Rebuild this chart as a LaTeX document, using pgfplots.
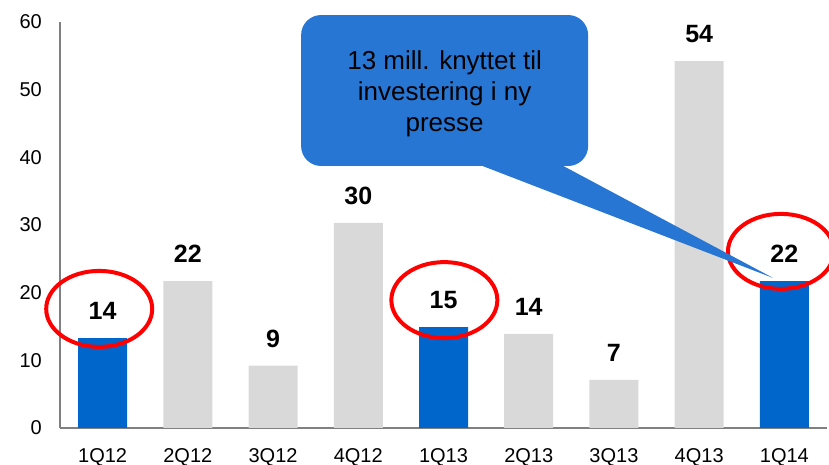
\documentclass[border=0pt]{standalone}
\usepackage{pgfplots}
\pgfplotsset{compat=1.18}
\usepackage{pgfplotstable}
\usepackage{fontspec}
\setmainfont{Liberation Sans}

\definecolor{barblue}{RGB}{0,102,204}
\definecolor{bargray}{RGB}{217,217,217}
\definecolor{axisgray}{RGB}{128,128,128}
\definecolor{callout}{RGB}{40,118,212}

% quarters highlighted in blue
\pgfplotstableread{
x y lbl
0 13.3 14
4 14.9 15
8 21.7 22
}\hiliteq
% remaining quarters
\pgfplotstableread{
x y lbl
1 21.7 22
2 9.2 9
3 30.3 30
5 13.9 14
6 7.1 7
7 54.2 54
}\otherq

\begin{document}
\begin{tikzpicture}
\begin{axis}[
  at={(0,0)}, anchor=south west,
  scale only axis, width=767pt, height=406pt,
  xmin=-0.5, xmax=8.5, ymin=0, ymax=60,
  axis x line=bottom, axis y line=left,
  axis line style={draw=axisgray, line width=1.2pt, -},
  ybar, bar width=49pt, bar shift=0pt,
  xtick={0,...,8},
  xticklabels={1Q12,2Q12,3Q12,4Q12,1Q13,2Q13,3Q13,4Q13,1Q14},
  ytick={0,10,...,60},
  major tick length=0pt,
  tick label style={font=\fontsize{20}{24}\selectfont},
  /pgf/number format/assume math mode=true,
  xticklabel style={inner sep=0pt, anchor=north, yshift=-20pt},
  yticklabel style={inner sep=0pt, anchor=east, xshift=-18pt},
  nodes near coords, point meta=explicit symbolic,
  every node near coord/.append style={font=\bfseries\fontsize{25}{30}\selectfont,
    anchor=south, inner sep=0pt, yshift=18pt, text=black},
  clip=false,
]
\addplot[fill=barblue, draw=none] table[x=x, y=y, meta=lbl] {\hiliteq};
\addplot[fill=bargray, draw=none] table[x=x, y=y, meta=lbl] {\otherq};

% red rings round the first quarters
\draw[red, line width=4pt] (axis cs:-0.04,17.6) ellipse [x radius=53pt, y radius=38pt];
\draw[red, line width=4pt] (axis cs:4.01,18.9) ellipse [x radius=53pt, y radius=38pt];
\draw[red, line width=4pt] (axis cs:7.96,26.1) ellipse [x radius=53pt, y radius=37.5pt];

% callout
\fill[callout, rounded corners=20pt] (axis cs:2.329,61.03) rectangle (axis cs:5.697,38.72);
\fill[callout] (axis cs:4.277,39.6) -- (axis cs:5.275,39.6) -- (axis cs:7.868,22.17) -- cycle;
\node[anchor=base, inner sep=0pt, font=\fontsize{26}{31}\selectfont] at (axis cs:4.013,53.05) {13 mill. knyttet til};
\node[anchor=base, inner sep=0pt, font=\fontsize{26}{31}\selectfont] at (axis cs:4.013,48.47) {investering i ny};
\node[anchor=base, inner sep=0pt, font=\fontsize{26}{31}\selectfont] at (axis cs:4.013,43.89) {presse};
\end{axis}
\pgfresetboundingbox
\useasboundingbox (-60pt,-37pt) rectangle (769pt,428pt);
\end{tikzpicture}
\end{document}
